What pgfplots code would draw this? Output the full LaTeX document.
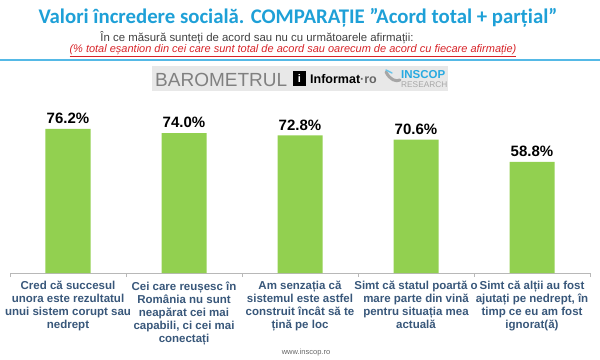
\documentclass[border=0pt]{standalone}
\usepackage{pgfplots}
\pgfplotsset{compat=1.18}
\usepackage{fontspec}
\setmainfont{Liberation Sans}
\newfontfamily\carlito{Carlito}
\definecolor{titleblue}{RGB}{30,160,215}
\definecolor{lineblue}{RGB}{85,185,230}
\definecolor{labblue}{RGB}{56,87,122}
\definecolor{bargreen}{RGB}{146,208,80}
\definecolor{redtxt}{RGB}{215,35,40}
\definecolor{inscop}{RGB}{40,170,225}
\begin{document}
\begin{tikzpicture}
\path[use as bounding box] (0,0) rectangle (600bp,-360bp);
% titles
\node[anchor=base, text=titleblue, font=\carlito\bfseries\fontsize{20.8bp}{23bp}\selectfont, inner sep=0pt] at (298bp,-23.5bp) {Valori încredere socială. COMPARAȚIE ”Acord total + parțial”};
\node[anchor=base, text=black!75, font=\fontsize{11.4bp}{13bp}\selectfont, inner sep=0pt] at (257bp,-41.5bp) {În ce măsură sunteți de acord sau nu cu următoarele afirmații:};
\node[anchor=base, text=redtxt, font=\itshape\fontsize{11bp}{13bp}\selectfont, inner sep=0pt] at (293bp,-52.5bp) {\underline{(\% total eșantion din cei care sunt total de acord sau oarecum de acord cu fiecare afirmație)}};
\draw[lineblue, line width=1.6bp] (0bp,-60bp) -- (600bp,-60bp);
% logo
\fill[black!9] (152bp,-66bp) rectangle (448bp,-91bp);
\node[anchor=base west, text=black!50, font=\fontsize{19bp}{20bp}\selectfont, inner sep=0pt] at (155bp,-86.5bp) {BAROMETRUL};
\fill[black] (293bp,-71bp) rectangle (306bp,-86bp);
\node[text=white, font=\bfseries\fontsize{11bp}{12bp}\selectfont, inner sep=0pt] at (299.5bp,-78.8bp) {i};
\node[anchor=base west, text=black, font=\bfseries\fontsize{12.5bp}{14bp}\selectfont, inner sep=0pt] at (310bp,-83.5bp) {Informat\textcolor{black!60}{·ro}};
\draw[black!35, line width=3bp, line cap=round] (386bp,-72bp) .. controls (390bp,-80bp) and (396bp,-82bp) .. (400bp,-80bp);
\draw[inscop!70, line width=1.5bp, line cap=round] (386bp,-70bp) -- (392bp,-73bp);
\node[anchor=base west, text=inscop, font=\bfseries\fontsize{11.5bp}{13bp}\selectfont, inner sep=0pt] at (401bp,-78.5bp) {INSCOP};
\node[anchor=base west, text=black!35, font=\fontsize{8.3bp}{9bp}\selectfont, inner sep=0pt] at (401bp,-87.5bp) {RESEARCH};
% footer
\node[anchor=base, text=black!60, font=\fontsize{7.5bp}{9bp}\selectfont, inner sep=0pt] at (306bp,-354bp) {www.inscop.ro};
\begin{axis}[
  at={(10bp,-273bp)}, anchor=south west, scale only axis,
  width=580bp, height=173bp,
  xmin=-0.5, xmax=4.5, ymin=0, ymax=91.5,
  axis y line=none, axis x line*=bottom,
  x axis line style={draw=black!28, line width=0.8bp, -},
  xtick={0,...,4},
  major x tick style={draw=none},
  minor xtick={-0.5,0.5,...,4.5},
  minor x tick style={draw=black!28, line width=0.8bp},
  minor tick length=4bp,
  tick align=outside,
  xticklabels={
    {Cred că succesul\\unora este rezultatul\\unui sistem corupt sau\\nedrept},
    {Cei care reușesc în\\România nu sunt\\neapărat cei mai\\capabili, ci cei mai\\conectați},
    {Am senzația că\\sistemul este astfel\\construit încât să te\\țină pe loc},
    {Simt că statul poartă o\\mare parte din vină\\pentru situația mea\\actuală},
    {Simt că alții au fost\\ajutați pe nedrept, în\\timp ce eu am fost\\ignorat(ă)}
  },
  xticklabel style={font=\bfseries\fontsize{11.5bp}{13bp}\selectfont, align=center, text=labblue, anchor=north, inner sep=0pt, yshift=-4bp},
  ybar, bar width=45bp,
  nodes near coords={\pgfmathprintnumber[fixed,fixed zerofill,precision=1,assume math mode=true]{\pgfplotspointmeta}\%},
  every node near coord/.append style={font=\bfseries\fontsize{15bp}{16bp}\selectfont, text=black, inner sep=0pt, yshift=5bp},
  clip=false,
]
\addplot[fill=bargreen, draw=none] coordinates {(0,76.2) (1,74.0) (2,72.8) (3,70.6) (4,58.8)};
\end{axis}
\end{tikzpicture}
\end{document}
